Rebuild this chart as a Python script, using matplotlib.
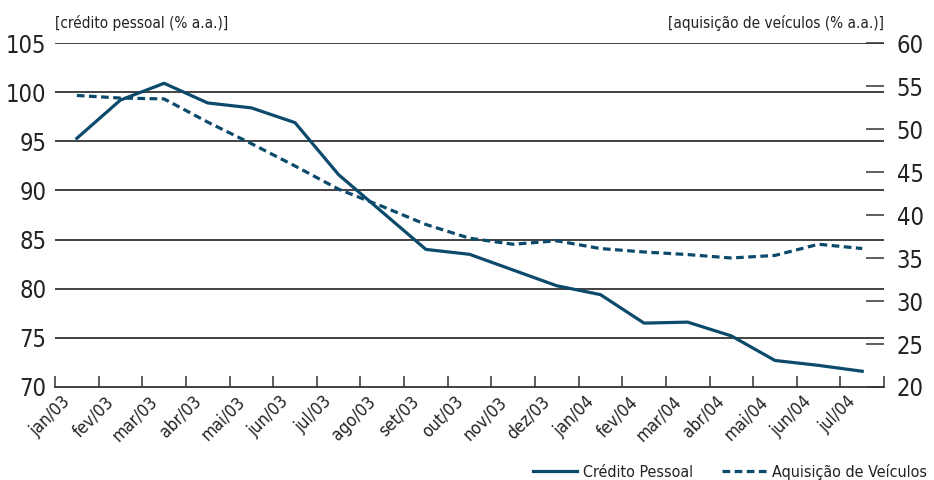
import numpy as np
import matplotlib
matplotlib.use("Agg")
import matplotlib.pyplot as plt
import matplotlib.transforms as mtransforms

plt.rcParams['font.family'] = ['DejaVu Sans']
plt.rcParams['font.stretch'] = 'condensed'

meses = ['jan/03', 'fev/03', 'mar/03', 'abr/03', 'mai/03', 'jun/03', 'jul/03',
         'ago/03', 'set/03', 'out/03', 'nov/03', 'dez/03', 'jan/04', 'fev/04',
         'mar/04', 'abr/04', 'mai/04', 'jun/04', 'jul/04']

# taxas médias (% a.a.)
credito_pessoal = [95.3, 99.2, 100.9, 98.9, 98.4, 96.9, 91.6, 87.8, 84.0, 83.5,
                   81.9, 80.3, 79.4, 76.5, 76.6, 75.2, 72.7, 72.2, 71.6]
aquisicao_veiculos = [53.9, 53.6, 53.5, 50.8, 48.3, 45.7, 43.0, 41.0, 38.9, 37.3,
                      36.6, 37.0, 36.1, 35.7, 35.4, 35.0, 35.3, 36.6, 36.1]

cor = '#0c4a6c'
cor_grade = '#333333'
cor_texto = '#222222'

fig = plt.figure(figsize=(9.34, 4.8), dpi=100)
ax = fig.add_axes([0.0589, 0.19375, 0.8876, 0.71665])
ax2 = ax.twinx()

x = np.arange(len(meses)) + 0.5

ax.plot(x, credito_pessoal, color=cor, lw=2.3, label='Crédito Pessoal', zorder=3)
ax2.plot(x, aquisicao_veiculos, color=cor, lw=2.3, ls=(0, (2.4, 1.4)),
         label='Aquisição de Veículos', zorder=3)

ax.set_xlim(0, len(meses))
ax.set_ylim(70, 105)
ax2.set_ylim(20, 60)

ax.set_yticks(np.arange(70, 106, 5))
ax2.set_yticks(np.arange(20, 61, 5))
for v in np.arange(75, 106, 5):
    ax.axhline(v, color=cor_grade, lw=1.3, zorder=1)

for a in (ax, ax2):
    for s in ('top', 'left', 'right'):
        a.spines[s].set_visible(False)
ax2.spines['bottom'].set_visible(False)
ax.spines['bottom'].set_color(cor_grade)
ax.spines['bottom'].set_linewidth(1.3)

ax.tick_params(axis='y', length=0, pad=6, labelsize=17, labelcolor=cor_texto)
ax2.tick_params(axis='y', direction='in', length=13, width=1.1, color=cor_grade,
                pad=9, labelsize=17, labelcolor=cor_texto)

ax.set_xticks(np.arange(len(meses) + 1))
ax.set_xticklabels(meses + [''], rotation=45, ha='right', va='top',
                   rotation_mode='anchor', fontsize=12.5, color=cor_texto)
ax.tick_params(axis='x', direction='in', length=8, width=1.1, color=cor_grade, pad=4)
desloc = mtransforms.ScaledTranslation(6 / 100, 0, fig.dpi_scale_trans)
for lbl in ax.get_xticklabels():
    lbl.set_transform(lbl.get_transform() + desloc)

fig.text(0.0589, 0.952, '[crédito pessoal (% a.a.)]', fontsize=11,
         color=cor_texto, ha='left', va='center')
fig.text(0.9465, 0.952, '[aquisição de veículos (% a.a.)]', fontsize=11,
         color=cor_texto, ha='right', va='center')

h1, l1 = ax.get_legend_handles_labels()
h2, l2 = ax2.get_legend_handles_labels()
fig.legend(h1 + h2, l1 + l2, loc='lower right', bbox_to_anchor=(1.008, -0.03),
           ncol=2, frameon=False, fontsize=11.5, handlelength=2.8,
           handletextpad=0.35, columnspacing=1.8, labelcolor=cor_texto)

fig.savefig('out.png', dpi=100)
